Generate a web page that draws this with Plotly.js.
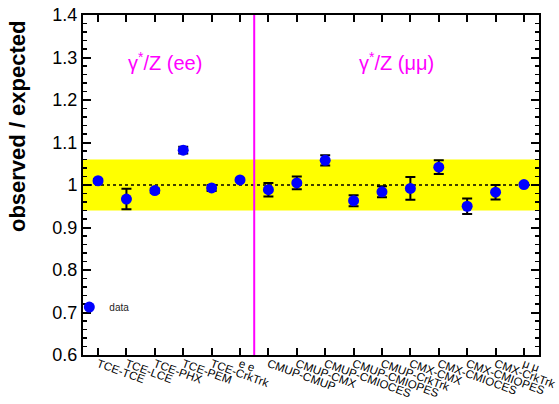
<!DOCTYPE html>
<html>
<head>
<meta charset="utf-8">
<script src="https://cdn.plot.ly/plotly-3.0.1.min.js"></script>
<style>html,body{margin:0;padding:0;background:#fff;}#chart{width:559px;height:404px;}</style>
</head>
<body>
<div id="chart"></div>
<script>
const categories = ["TCE-TCE","TCE-LCE","TCE-PHX","TCE-PEM","TCE-CrkTrk","e e",
  "CMUP-CMUP","CMUP-CMX","CMUP-CMIOCES","CMUP-CMIOPES","CMUP-CrkTrk",
  "CMX-CMX","CMX-CMIOCES","CMX-CMIOPES","CMX-CrkTrk","\u03bc \u03bc"];
const ratio = [1.010,0.967,0.987,1.082,0.993,1.012,
  0.989,1.005,1.058,0.963,0.984,0.992,1.042,0.950,0.983,1.001];
const ratioErr = [0.004,0.024,0.005,0.008,0.007,0.003,
  0.016,0.015,0.012,0.013,0.013,0.027,0.016,0.018,0.017,0.003];
const positions = categories.map((c, i) => i + 1);
const bandRange = [0.94, 1.06];
const referenceLevel = 1.0;
const dividerAt = 6.5;
const groupLabels = ["\u03b3<sup>*</sup>/Z (ee)", "\u03b3<sup>*</sup>/Z (\u03bc\u03bc)"];

const trace = {
  x: positions, y: ratio, type: 'scatter', mode: 'markers', name: 'data',
  marker: {color: '#0000ff', size: 11},
  error_y: {type: 'data', array: ratioErr, visible: true, color: '#000', thickness: 2, width: 5},
  cliponaxis: false
};

const layout = {
  width: 559, height: 404,
  margin: {l: 83, r: 20, t: 15, b: 49},
  paper_bgcolor: '#fff', plot_bgcolor: '#fff',
  font: {family: 'Liberation Sans, Arial, sans-serif', color: '#000'},
  showlegend: true,
  legend: {x: -0.03, xanchor: 'left', y: 0.141, yanchor: 'middle', bgcolor: 'rgba(0,0,0,0)',
    font: {size: 10, color: '#222'}, itemwidth: 30},
  xaxis: {
    range: [0.47, 16.53], tickvals: positions, ticktext: categories, tickangle: 20,
    ticklabeloverflow: 'allow', ticklabelstandoff: -4,
    tickfont: {size: 11.5}, ticks: 'inside', ticklen: 7, tickwidth: 2, tickcolor: '#000',
    showline: true, linewidth: 2, linecolor: '#000', mirror: 'ticks', showgrid: false, zeroline: false
  },
  yaxis: {
    range: [0.6, 1.4], dtick: 0.1, tickfont: {size: 18}, ticks: 'inside', ticklen: 8, tickwidth: 2,
    tickcolor: '#000', showline: true, linewidth: 2, linecolor: '#000', mirror: 'ticks',
    showgrid: false, zeroline: false,
    minor: {ticks: 'inside', dtick: 0.02, ticklen: 4, tickwidth: 1.5, tickcolor: '#000'}
  },
  shapes: [
    {type: 'rect', xref: 'paper', yref: 'y', x0: 0, x1: 1, y0: bandRange[0], y1: bandRange[1],
      fillcolor: '#ffff00', line: {width: 0}, layer: 'below'},
    {type: 'line', xref: 'paper', yref: 'y', x0: 0, x1: 1, y0: referenceLevel, y1: referenceLevel,
      line: {color: '#000', width: 1.5, dash: '3px,3px'}, layer: 'below'},
    {type: 'line', xref: 'x', yref: 'paper', x0: dividerAt, x1: dividerAt, y0: 0, y1: 1,
      line: {color: '#ff00ff', width: 2}, layer: 'above'}
  ],
  annotations: [
    {text: groupLabels[0], x: 3.36, y: 1.29, xref: 'x', yref: 'y', showarrow: false,
      font: {size: 20, color: '#ff00ff'}},
    {text: groupLabels[1], x: 11.5, y: 1.29, xref: 'x', yref: 'y', showarrow: false,
      font: {size: 20, color: '#ff00ff'}},
    {text: '<b>observed / expected</b>', textangle: -90, xref: 'paper', yref: 'paper',
      x: -0.1436, y: 0.672, xanchor: 'center', yanchor: 'middle', showarrow: false,
      font: {size: 22, color: '#000'}}
  ]
};

Plotly.newPlot('chart', [trace], layout, {displayModeBar: false, staticPlot: true});
</script>
</body>
</html>
